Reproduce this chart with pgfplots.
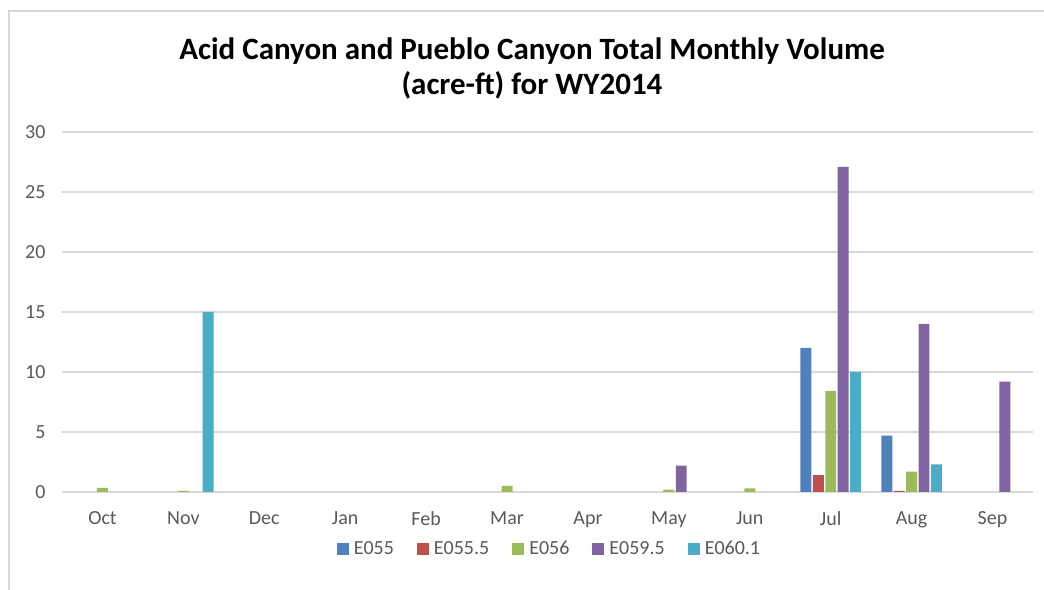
\documentclass[border=0pt]{standalone}
\usepackage{pgfplots}
\pgfplotsset{compat=1.18}
\usepackage{fontspec}
\setmainfont{Carlito}
\definecolor{cA}{HTML}{4F81BD}
\definecolor{cB}{HTML}{C0504D}
\definecolor{cC}{HTML}{9BBB59}
\definecolor{cD}{HTML}{8064A2}
\definecolor{cE}{HTML}{4BACC6}
\definecolor{txt}{HTML}{595959}
\definecolor{grd}{HTML}{D9D9D9}
\begin{document}
\begin{tikzpicture}
\useasboundingbox (0bp,0bp) rectangle (1044bp,590bp);
\draw[line width=1.5bp, color=grd] (9bp,0bp) -- (9bp,579bp) -- (1044bp,579bp);
\node[font=\fontsize{31bp}{35bp}\selectfont\bfseries, align=center, anchor=center] at (532bp,522bp) {Acid Canyon and Pueblo Canyon Total Monthly Volume\\(acre-ft) for WY2014};
\begin{axis}[
  at={(62bp,98bp)}, anchor=south west,
  scale only axis, width=971bp, height=360bp,
  xmin=-0.5, xmax=11.5, ymin=0, ymax=30,
  ytick={0,5,...,30},
  xtick={0,...,11},
  xticklabels={Oct,Nov,Dec,Jan,Feb,Mar,Apr,May,Jun,Jul,Aug,Sep},
  ymajorgrids, grid style={color=grd, line width=1.2bp},
  axis x line*=bottom, axis y line*=left,
  x axis line style={color=grd, line width=1.2bp, -},
  y axis line style={draw=none},
  major tick length=0pt,
  tick label style={font=\fontsize{20bp}{22bp}\selectfont, color=txt},
  yticklabel style={xshift=-13bp},
  xticklabel style={yshift=-16bp},
  /pgf/number format/assume math mode=true,
  bar width=0.135,
  legend style={at={(0.502,-0.125)}, anchor=north, draw=none, legend columns=5,
    font=\fontsize{20bp}{22bp}\selectfont, text=txt,
    /tikz/every odd column/.append style={column sep=3bp},
    /tikz/every even column/.append style={column sep=21bp}},
  legend image code/.code={\fill[#1] (0bp,-6bp) rectangle (12bp,6bp);},
]
\addplot[ybar, bar shift=-0.306, fill=cA, draw=none] coordinates {(9,12.0) (10,4.7)};
\addplot[ybar, bar shift=-0.153, fill=cB, draw=none] coordinates {(9,1.4) (10,0.1)};
\addplot[ybar, bar shift=0, fill=cC, draw=none] coordinates {(0,0.35) (1,0.1) (5,0.5) (7,0.2) (8,0.3) (9,8.4) (10,1.7)};
\addplot[ybar, bar shift=0.153, fill=cD, draw=none] coordinates {(7,2.2) (9,27.1) (10,14.0) (11,9.2)};
\addplot[ybar, bar shift=0.306, fill=cE, draw=none] coordinates {(1,15.0) (9,10.0) (10,2.3)};
\legend{E055,E055.5,E056,E059.5,E060.1}
\end{axis}
\end{tikzpicture}
\end{document}
